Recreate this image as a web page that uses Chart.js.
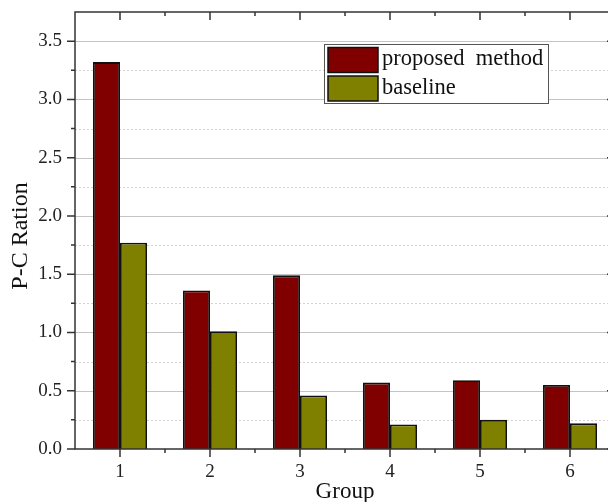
<!DOCTYPE html>
<html>
<head>
<meta charset="utf-8">
<script src="https://cdn.jsdelivr.net/npm/chart.js@4/dist/chart.umd.min.js"></script>
<style>
  html, body { margin: 0; padding: 0; overflow: hidden; background: #fff; }
  #caja { width: 625px; height: 502px; }
</style>
</head>
<body>
<div id="caja"><canvas id="grafico" width="625" height="502"></canvas></div>
<script>
// datos por grupo
const grupos = ["1", "2", "3", "4", "5", "6"];
const propuesto = [3.32, 1.36, 1.49, 0.57, 0.59, 0.55];
const base = [1.77, 1.01, 0.46, 0.21, 0.25, 0.22];
const nombres = ["proposed  method", "baseline"];
const colores = ["#800000", "#808000"];
const tituloY = "P-C Ration";

const SERIF = "'Liberation Serif', 'Times New Roman', serif";
const EJE = "#333333";

// rejilla, marco con marcas, título del eje y y leyenda, al estilo Origin
const marco = {
  id: "marco",
  beforeDatasetsDraw(chart) {
    const { ctx, chartArea: a, scales: { y } } = chart;
    ctx.save();
    ctx.lineWidth = 1;
    for (let k = 1; k * 0.25 < y.max; k++) {
      const py = Math.round(y.getPixelForValue(k * 0.25)) + 0.5;
      const mayor = k % 2 === 0;
      ctx.strokeStyle = mayor ? "#c4c4c4" : "#d2d2d2";
      ctx.setLineDash(mayor ? [] : [2, 2]);
      ctx.beginPath();
      ctx.moveTo(a.left, py);
      ctx.lineTo(a.right, py);
      ctx.stroke();
    }
    ctx.restore();
  },
  afterDatasetsDraw(chart) {
    const { ctx, chartArea: a, scales: { x, y } } = chart;
    ctx.save();
    ctx.strokeStyle = EJE;
    ctx.lineWidth = 1.5;
    ctx.strokeRect(a.left, a.top, a.right - a.left, a.bottom - a.top);

    ctx.beginPath();
    // eje y: marcas hacia fuera a la izquierda, hacia dentro a la derecha
    for (let k = 0; k * 0.25 < y.max; k++) {
      const py = y.getPixelForValue(k * 0.25);
      const l = k % 2 === 0 ? 8 : 4;
      ctx.moveTo(a.left - l, py); ctx.lineTo(a.left, py);
      ctx.moveTo(a.right - l, py); ctx.lineTo(a.right, py);
    }
    // eje x: marcas en cada grupo y entre grupos
    for (let i = 0; i < grupos.length; i++) {
      const px = x.getPixelForValue(i);
      ctx.moveTo(px, a.bottom); ctx.lineTo(px, a.bottom + 8);
      ctx.moveTo(px, a.top); ctx.lineTo(px, a.top + 8);
      if (i < grupos.length - 1) {
        const pm = (px + x.getPixelForValue(i + 1)) / 2;
        ctx.moveTo(pm, a.bottom); ctx.lineTo(pm, a.bottom + 4);
        ctx.moveTo(pm, a.top); ctx.lineTo(pm, a.top + 4);
      }
    }
    ctx.stroke();
    ctx.restore();
  },
  afterDraw(chart) {
    const { ctx } = chart;
    ctx.save();

    // título del eje y
    ctx.translate(21, 236);
    ctx.rotate(-Math.PI / 2);
    ctx.font = "24px " + SERIF;
    ctx.fillStyle = "#111111";
    ctx.textAlign = "center";
    ctx.textBaseline = "middle";
    ctx.fillText(tituloY, 0, 0);
    ctx.setTransform(1, 0, 0, 1, 0, 0);

    // leyenda
    const bx = 324.5, by = 44.5, bw = 224, bh = 59;
    ctx.fillStyle = "#ffffff";
    ctx.fillRect(bx, by, bw, bh);
    ctx.strokeStyle = "#555555";
    ctx.lineWidth = 1;
    ctx.strokeRect(bx, by, bw, bh);
    ctx.font = "22.5px " + SERIF;
    ctx.textAlign = "left";
    ctx.textBaseline = "middle";
    chart.data.datasets.forEach((ds, i) => {
      const sy = 47.5 + i * 28.5;
      ctx.fillStyle = ds.backgroundColor;
      ctx.fillRect(328, sy, 50, 25);
      ctx.strokeStyle = "#111111";
      ctx.lineWidth = 1.5;
      ctx.strokeRect(328, sy, 50, 25);
      ctx.fillStyle = "#111111";
      ctx.fillText(ds.label, 382, sy + 12);
    });
    ctx.restore();
  }
};

new Chart(document.getElementById("grafico"), {
  type: "bar",
  data: {
    labels: grupos,
    datasets: [
      { label: nombres[0], data: propuesto, backgroundColor: colores[0] },
      { label: nombres[1], data: base, backgroundColor: colores[1] }
    ]
  },
  options: {
    responsive: false,
    animation: false,
    devicePixelRatio: 1,
    layout: { padding: { top: 12, right: 10, left: 0, bottom: 0 } },
    datasets: {
      bar: {
        categoryPercentage: 0.6,
        barPercentage: 1.0,
        borderWidth: 1.8,
        borderColor: "#111111"
      }
    },
    plugins: {
      legend: { display: false },
      tooltip: { enabled: false }
    },
    scales: {
      x: {
        grid: { display: false, drawTicks: false },
        border: { display: false },
        ticks: { color: "#222", padding: 12, font: { family: SERIF, size: 19 } },
        title: {
          display: true,
          text: "Group",
          color: "#111",
          font: { family: SERIF, size: 23, lineHeight: 1 },
          padding: { top: 0, bottom: -1 }
        },
        afterFit(s) {
          s.height = 53;
          s.paddingLeft = 0;
          s.paddingRight = 0;
        }
      },
      y: {
        min: 0,
        max: 3.75,
        grid: { display: false, drawTicks: false },
        border: { display: false },
        ticks: {
          stepSize: 0.5,
          includeBounds: false,
          color: "#222",
          padding: 13,
          font: { family: SERIF, size: 19 },
          callback: v => v.toFixed(1)
        },
        afterFit(s) {
          s.width = 75;
          s.paddingTop = 0;
          s.paddingBottom = 0;
        }
      }
    }
  },
  plugins: [marco]
});
</script>
</body>
</html>
